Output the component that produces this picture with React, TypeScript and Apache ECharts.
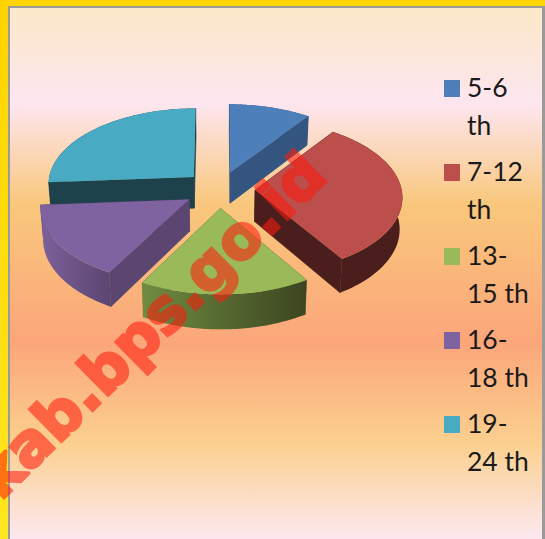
import React, { useEffect, useRef } from "react";
import * as echarts from "echarts";

const categories = ["5-6 th", "7-12 th", "13-15 th", "16-18 th", "19-24 th"];
const legendLines = ["5-6\nth", "7-12\nth", "13-\n15 th", "16-\n18 th", "19-\n24 th"];
const values = [9.9, 31.1, 17.1, 15.8, 26.1];
const topColors = ["#4d7fba", "#bc4e4b", "#9aba59", "#7f62a0", "#49aac4"];
const faceColors = ["#34557f", "#4b1e1e", "#5f7a36", "#5a4670", "#1d424c"];
const wallStart = ["#34557f", "#4b1e1e", "#6f8c40", "#7d619b", "#1d424c"];
const wallEnd = ["#34557f", "#4b1e1e", "#3c4520", "#5b4571", "#1d424c"];
const paintOrder = [2, 4, 5, 3, 1];
const watermark = "kab.bps.go.id";

const W = 545;
const H = 539;
const CX = 219.5;
const CY = 189.5;
const RX = 146.5;
const RY = 76;
const K = 0.08;
const EXPLODE = 0.243;
const DEPTH = 31.5;
const BASE_SCALE = 0.985;

const total = values.reduce((a, b) => a + b, 0);

function project(u: number, v: number, lower: boolean): number[] {
  const w = 1 - K * v;
  const s = lower ? BASE_SCALE : 1;
  return [CX + (RX * u * s) / w, CY + (RY * v) / w + (lower ? DEPTH / w : 0)];
}

function renderSlice(params: any, api: any) {
  const i = params.dataIndex;
  let before = 0;
  for (let k = 0; k < i; k++) before += values[k];
  const value = api.value(0);
  const a0 = (before / total) * Math.PI * 2;
  const a1 = ((before + value) / total) * Math.PI * 2;
  const mid = (a0 + a1) / 2;
  const ou = Math.sin(mid) * EXPLODE;
  const ov = -Math.cos(mid) * EXPLODE;
  const topArc: number[][] = [];
  const lowArc: number[][] = [];
  const steps = 60;
  for (let s = 0; s <= steps; s++) {
    const a = a0 + ((a1 - a0) * s) / steps;
    const u = ou + Math.sin(a);
    const v = ov - Math.cos(a);
    topArc.push(project(u, v, false));
    lowArc.push(project(u, v, true));
  }
  const apexTop = project(ou, ov, false);
  const apexLow = project(ou, ov, true);
  const z2 = paintOrder[i];
  const poly = (points: number[][], fill: any, stroke: any) => ({
    type: "polygon",
    z2,
    shape: { points },
    style: { fill, stroke, lineWidth: stroke ? 0.6 : 0, lineJoin: "round" },
  });
  return {
    type: "group",
    children: [
      poly([apexTop, topArc[0], lowArc[0], apexLow], faceColors[i], faceColors[i]),
      poly([apexTop, topArc[steps], lowArc[steps], apexLow], faceColors[i], faceColors[i]),
      poly(
        topArc.concat(lowArc.slice().reverse()),
        {
          type: "linear",
          x: 0,
          y: 0,
          x2: 1,
          y2: 0,
          colorStops: [
            { offset: 0, color: wallStart[i] },
            { offset: 1, color: wallEnd[i] },
          ],
        },
        null
      ),
      poly([apexTop].concat(topArc), topColors[i], null),
    ],
  };
}

export default function App() {
  const ref = useRef<HTMLDivElement>(null);
  useEffect(() => {
    const chart = echarts.init(ref.current!, null, { renderer: "svg" });
    chart.setOption({
      animation: false,
      series: [
        {
          type: "custom",
          coordinateSystem: "none",
          z: 5,
          renderItem: renderSlice,
          data: categories.map((name, i) => ({ name, value: [values[i]] })),
        },
      ],
      graphic: [
        {
          type: "rect",
          z: 0,
          silent: true,
          shape: { x: 0, y: 0, width: W, height: H },
          style: {
            fill: {
              type: "linear",
              x: 0,
              y: 0,
              x2: 0,
              y2: 1,
              colorStops: [
                { offset: 0, color: "#ffd400" },
                { offset: 1, color: "#ffe620" },
              ],
            },
          },
        },
        {
          type: "rect",
          z: 0,
          silent: true,
          shape: { x: 8, y: 6, width: W - 8, height: H - 6 },
          style: { fill: "#9a9a9a" },
        },
        {
          type: "rect",
          z: 1,
          silent: true,
          shape: { x: 10, y: 8, width: W - 13, height: H - 8 },
          style: {
            fill: {
              type: "linear",
              x: 0,
              y: 0,
              x2: 0,
              y2: 1,
              colorStops: [
                { offset: 0, color: "#fbe8c8" },
                { offset: 0.18, color: "#fde6f0" },
                { offset: 0.37, color: "#f9c77c" },
                { offset: 0.63, color: "#fba67a" },
                { offset: 0.82, color: "#fbd08f" },
                { offset: 1, color: "#fde8f0" },
              ],
            },
          },
        },
        ...legendLines.flatMap((label, i) => [
          {
            type: "rect",
            z: 10,
            shape: { x: 444, y: 80 + i * 84, width: 16, height: 17 },
            style: { fill: topColors[i] },
          },
          {
            type: "text",
            z: 10,
            x: 467,
            y: 67.5 + i * 84,
            style: {
              text: label,
              fill: "#1a1a1a",
              font: "26.5px Lato",
              lineHeight: 38,
              align: "left",
              verticalAlign: "top",
            },
          },
        ]),
        {
          type: "text",
          z: 50,
          silent: true,
          x: 150,
          y: 325,
          rotation: (44.5 * Math.PI) / 180,
          style: {
            text: watermark,
            fill: "#ff1a0c",
            stroke: "#ff1a0c",
            lineWidth: 3,
            font: "bold 60px 'DejaVu Sans'",
            align: "center",
            verticalAlign: "middle",
          },
        },
      ],
    });
    // Fill and stroke must composite as one shape, which only the element-level opacity does.
    ref.current!.querySelectorAll("text").forEach((t) => {
      if (t.textContent === watermark) (t as SVGTextElement).style.opacity = "0.56";
    });
    return () => chart.dispose();
  }, []);
  return (
    <div
      ref={ref}
      style={{ position: "absolute", left: 0, top: 0, width: W, height: H }}
    />
  );
}
